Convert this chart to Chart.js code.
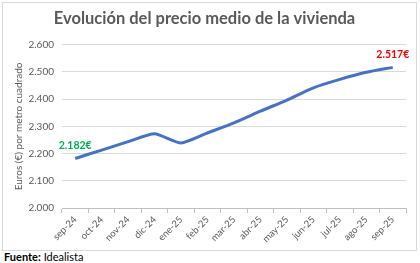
<!DOCTYPE html>
<html lang="es">
<head>
  <meta charset="UTF-8">
  <title>Evolución del precio medio de la vivienda</title>
  <style>
    body { margin: 0; background: #fff; font-family: Lato, "Open Sans", sans-serif; }
    #box { position: absolute; left: 2px; top: 2px; width: 413px; height: 247px; border: 1px solid #d9d9d9; }
    #source { position: absolute; left: 4px; top: 250px; font-size: 11px; color: #000; }
  </style>
</head>
<body>
  <div id="box"><canvas id="priceChart" width="413" height="247"></canvas></div>
  <div id="source"><b>Fuente:</b> Idealista</div>
  <script src="https://cdn.jsdelivr.net/npm/chart.js"></script>
  <script>
    const months = ['sep-24', 'oct-24', 'nov-24', 'dic-24', 'ene-25', 'feb-25', 'mar-25',
      'abr-25', 'may-25', 'jun-25', 'jul-25', 'ago-25', 'sep-25'];
    const prices = [2182, 2213, 2244, 2273, 2239, 2276, 2313, 2356, 2397, 2442, 2473, 2499, 2517];
    const labelled = { 0: '#00b050', 12: '#ff0000' };

    // write the first and last value above their points
    const endLabels = {
      id: 'endLabels',
      afterDatasetsDraw(chart) {
        const ctx = chart.ctx;
        const pts = chart.getDatasetMeta(0).data;
        ctx.save();
        ctx.font = 'bold 10.5px Lato';
        ctx.textAlign = 'center';
        ctx.textBaseline = 'middle';
        Object.keys(labelled).forEach(i => {
          const p = pts[i];
          ctx.fillStyle = labelled[i];
          ctx.fillText(prices[i].toLocaleString('de-DE') + '€', p.x, p.y - 13);
        });
        ctx.restore();
      }
    };

    new Chart(document.getElementById('priceChart'), {
      type: 'line',
      data: {
        labels: months,
        datasets: [{
          data: prices,
          borderColor: '#4472c4',
          borderWidth: 3,
          pointRadius: 0,
          tension: 0.2
        }]
      },
      options: {
        responsive: false,
        animation: false,
        layout: { padding: { left: 0, right: 10, top: 0, bottom: 0 } },
        plugins: {
          legend: { display: false },
          tooltip: { enabled: false },
          title: {
            display: true,
            text: 'Evolución del precio medio de la vivienda',
            color: '#595959',
            font: { family: 'Lato', size: 16.5, weight: 'bold' },
            padding: { top: 6, bottom: 16 }
          }
        },
        scales: {
          x: {
            offset: true,
            grid: { offset: true, drawOnChartArea: false, color: '#bfbfbf', tickLength: 5 },
            border: { color: '#bfbfbf' },
            ticks: { color: '#595959', font: { family: 'Lato', size: 9.5 }, minRotation: 45, maxRotation: 45, padding: 1 },
            afterFit(scale) { scale.height = 42; }
          },
          y: {
            min: 2000,
            max: 2600,
            grid: { color: '#d9d9d9', drawTicks: false },
            border: { display: false },
            ticks: {
              stepSize: 100,
              color: '#595959',
              padding: 8,
              font: { family: 'Lato', size: 10 },
              callback: v => v.toLocaleString('de-DE', { minimumFractionDigits: 3 }).slice(0, 5)
            },
            title: {
              display: true,
              text: 'Euros (€) por metro cuadrado',
              color: '#595959',
              font: { family: 'Lato', size: 10 },
              padding: { top: 10, bottom: 0 }
            },
            afterFit(scale) { scale.width = 59; }
          }
        }
      },
      plugins: [endLabels]
    });
  </script>
</body>
</html>
